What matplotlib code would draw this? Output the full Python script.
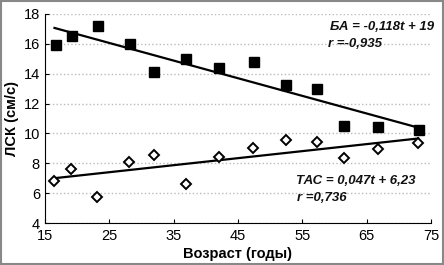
import numpy as np
import matplotlib.pyplot as plt
from matplotlib.patches import Rectangle

plt.rcParams['font.family'] = ['Liberation Sans', 'DejaVu Sans']

# BA (squares)
age_ba = np.array([16.7, 19.2, 23.3, 28.2, 32.0, 36.9, 42.1, 47.5, 52.5, 57.3, 61.5, 66.8, 73.1])
lsk_ba = np.array([15.9, 16.5, 17.15, 16.0, 14.1, 14.95, 14.35, 14.8, 13.25, 12.95, 10.5, 10.45, 10.25])

# TAC (diamonds)
age_tac = np.array([16.4, 19.0, 23.1, 28.1, 32.0, 36.9, 42.1, 47.3, 52.4, 57.2, 61.5, 66.7, 73.0])
lsk_tac = np.array([6.8, 7.6, 5.75, 8.1, 8.55, 6.6, 8.4, 9.05, 9.55, 9.4, 8.35, 8.95, 9.35])

# trend lines from the equations on the chart
ba_k, ba_b = -0.118, 19
tac_k, tac_b = 0.047, 6.23

fig = plt.figure(figsize=(4.44, 2.65), dpi=100)
ax = fig.add_axes([0.101, 0.158, 0.870, 0.790])

t = np.array([16.5, 73.0])
ax.plot(t, ba_k * t + ba_b, color='black', lw=1.6, zorder=2)
ax.plot(t, tac_k * t + tac_b, color='black', lw=1.6, zorder=2)

ax.plot(age_ba, lsk_ba, 's', color='black', ms=7, zorder=3, clip_on=False)
ax.plot(age_tac, lsk_tac, 'D', mfc='white', mec='black', mew=1.4, ms=5.5, zorder=3, clip_on=False)

ax.set_xlim(15, 75)
ax.set_ylim(4, 18)
ax.set_xticks(np.arange(15, 76, 10))
ax.set_yticks(np.arange(4, 19, 2))
ax.yaxis.grid(True, linestyle=':', color='#bbbbbb', lw=1)
ax.set_axisbelow(True)
for s in ['top', 'right']:
    ax.spines[s].set_visible(False)
ax.tick_params(direction='in', length=3, labelsize=10.5, colors='black')
ax.tick_params(axis='x', pad=4)

ax.set_xlabel('Возраст (годы)', fontsize=10.5, fontweight='bold', labelpad=3)
ax.set_ylabel('ЛСК (см/с)', fontsize=10.5, fontweight='bold', labelpad=3)

txt = dict(style='italic', fontweight='bold', fontsize=9.5, va='center', color='#111111')
ax.text(75.5, 17.1, 'БА = -0,118t + 19', ha='right', **txt)
ax.text(63.2, 15.95, 'r =-0,935', ha='center', **txt)
ax.text(72.5, 6.85, 'ТАС = 0,047t + 6,23', ha='right', **txt)
ax.text(58.0, 5.65, 'r =0,736', ha='center', **txt)

fig.patches.append(Rectangle((0.002, 0.003), 0.995, 0.993, transform=fig.transFigure,
                             fill=False, edgecolor='#888888', lw=1.5))

plt.savefig('out.png', dpi=100)
